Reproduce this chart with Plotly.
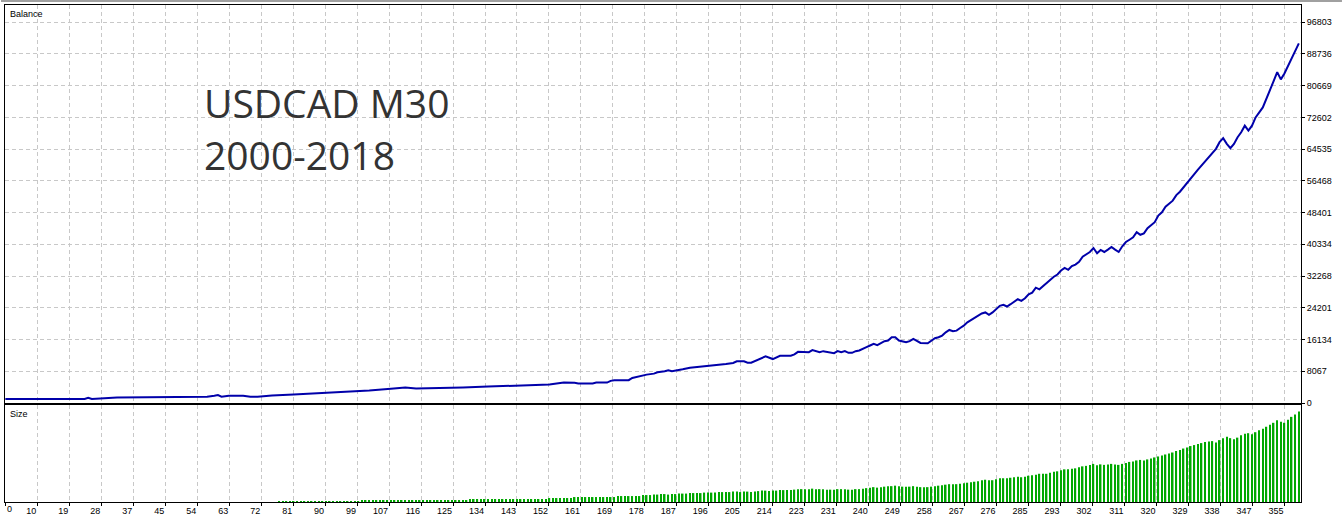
import plotly.graph_objects as go

# balance curve (trade number -> account balance)
trade_no = [0, 11, 22, 23, 24, 31, 38, 47, 56, 58, 59, 60, 62, 66, 68, 70, 74, 80, 86, 94,
            101, 107, 111, 114, 118, 127, 134, 144, 151, 153, 155, 158, 159, 163, 164, 167,
            168, 169, 173, 174, 176, 178, 180, 181, 183, 184, 185, 187, 188, 190, 193, 194,
            197, 200, 202, 203, 205, 206, 207, 208, 210, 211, 213, 214, 215, 218, 219, 220,
            223, 224, 225, 226, 227, 228, 229, 230, 231, 232, 233, 234, 235, 236, 237, 238,
            239, 240, 241, 242, 243, 244, 245, 246, 247, 248, 250, 251, 252, 253, 254, 256,
            257, 258, 259, 260, 261, 262, 263, 264, 265, 266, 267, 268, 269, 271, 272, 273,
            274, 275, 276, 277, 278, 279, 280, 281, 282, 283, 284, 285, 286, 287, 291, 292,
            293, 294, 295, 296, 297, 298, 299, 301, 302, 303, 304, 305, 306, 307, 308, 309,
            310, 311, 312, 313, 314, 315, 316, 317, 319, 320, 321, 322, 324, 325, 326, 331,
            336, 337, 338, 339, 340, 341, 342, 343, 344, 345, 346, 347, 349, 350, 351, 352,
            353, 354, 355, 356, 357, 358, 359]
balance = [1000, 1000, 1010, 1330, 1020, 1410, 1420, 1590, 1600, 1840, 2010, 1600, 1840, 1840, 1590, 1600, 1920, 2170, 2420, 2850,
           3180, 3600, 3930, 3680, 3700, 3930, 4180, 4440, 4690, 4940, 5190, 5120, 4940, 4940, 5190, 5190,
           5620, 5800, 5800, 6380, 6810, 7210, 7460, 7820, 8070, 8320, 8070, 8320, 8570, 8970, 9220, 9480,
           9660, 9910, 10160, 10590, 10590, 10240, 10240, 10660, 11340, 11850, 11170, 11670, 12000, 12000, 12350, 13010,
           12930, 13440, 13110, 12930, 13180, 13010, 12680, 12680, 13180, 12930, 13180, 12760, 12760, 13180, 13360, 13870,
           14190, 14620, 15030, 14700, 15200, 15710, 15880, 16710, 16710, 15880, 15450, 15710, 16290, 15880, 15280, 15200,
           15880, 16460, 16710, 17140, 17970, 18560, 18230, 18400, 19060, 19660, 20500, 21080, 21760, 22760, 23020, 22440,
           23020, 23850, 24710, 24960, 24530, 25110, 25710, 26370, 25970, 26620, 27630, 28060, 29320, 28900, 32090, 32670,
           33680, 34360, 33860, 34790, 35190, 35870, 37210, 38390, 39400, 38070, 38900, 38390, 38980, 39650, 38980, 38390,
           39830, 40920, 41500, 42100, 43440, 42760, 43110, 44450, 45960, 47650, 48480, 49920, 51430, 52840, 53700, 59320,
           64610, 66300, 67310, 65870, 64790, 65870, 67560, 68820, 70490, 69230, 70490, 72600, 75130, 77220, 79740, 81830,
           84100, 82260, 83770, 85600, 87800, 89400, 91400]

# position size of every trade (lots), one bar per trade
lot_size = [
    0.1, 0.1, 0.1, 0.1, 0.1, 0.1, 0.1, 0.1, 0.1, 0.1, 0.1, 0.1, 0.1, 0.1, 0.1, 0.1, 0.1, 0.1, 0.1, 0.1,
    0.1, 0.1, 0.1, 0.1, 0.1, 0.1, 0.1, 0.1, 0.1, 0.1, 0.1, 0.1, 0.1, 0.1, 0.1, 0.1, 0.1, 0.1, 0.1, 0.1,
    0.1, 0.1, 0.1, 0.1, 0.1, 0.1, 0.1, 0.1, 0.1, 0.1, 0.1, 0.1, 0.1, 0.1, 0.1, 0.1, 0.1, 0.1, 0.1, 0.1,
    0.1, 0.1, 0.1, 0.1, 0.1, 0.1, 0.1, 0.1, 0.1, 0.1, 0.1, 0.1, 0.1, 0.1, 0.1, 0.1, 0.2, 0.2, 0.2, 0.2,
    0.2, 0.2, 0.2, 0.2, 0.2, 0.2, 0.2, 0.2, 0.2, 0.2, 0.2, 0.2, 0.2, 0.2, 0.2, 0.2, 0.2, 0.2, 0.2, 0.3,
    0.3, 0.3, 0.3, 0.3, 0.3, 0.3, 0.3, 0.3, 0.3, 0.3, 0.3, 0.3, 0.3, 0.3, 0.3, 0.3, 0.3, 0.3, 0.3, 0.3,
    0.3, 0.3, 0.3, 0.3, 0.3, 0.3, 0.3, 0.3, 0.3, 0.4, 0.4, 0.4, 0.4, 0.4, 0.4, 0.4, 0.4, 0.4, 0.4, 0.4,
    0.4, 0.4, 0.4, 0.4, 0.4, 0.4, 0.4, 0.4, 0.4, 0.4, 0.4, 0.5, 0.5, 0.5, 0.5, 0.5, 0.5, 0.5, 0.6, 0.6,
    0.6, 0.6, 0.6, 0.6, 0.6, 0.6, 0.6, 0.6, 0.6, 0.6, 0.7, 0.7, 0.7, 0.7, 0.7, 0.7, 0.7, 0.8, 0.8, 0.8,
    0.85, 0.85, 0.9, 0.9, 0.85, 0.9, 0.9, 0.95, 0.95, 0.95, 1.0, 1.0, 1.0, 1.0, 1.05, 1.05, 1.05, 1.05, 1.1, 1.1,
    1.1, 1.1, 1.15, 1.15, 1.1, 1.15, 1.15, 1.1, 1.15, 1.2, 1.25, 1.25, 1.2, 1.25, 1.25, 1.3, 1.3, 1.3, 1.3, 1.35,
    1.4, 1.4, 1.4, 1.4, 1.45, 1.4, 1.4, 1.4, 1.35, 1.35, 1.35, 1.4, 1.4, 1.4, 1.35, 1.35, 1.4, 1.4, 1.45, 1.5,
    1.55, 1.6, 1.55, 1.6, 1.65, 1.7, 1.7, 1.75, 1.7, 1.65, 1.65, 1.65, 1.7, 1.65, 1.6, 1.6, 1.6, 1.65, 1.7, 1.75,
    1.8, 1.85, 1.9, 1.9, 1.9, 1.95, 2.0, 2.05, 2.1, 2.15, 2.2, 2.3, 2.35, 2.3, 2.3, 2.4, 2.5, 2.5, 2.5, 2.55,
    2.6, 2.65, 2.6, 2.65, 2.75, 2.8, 2.85, 2.95, 2.95, 2.95, 3.05, 3.15, 3.2, 3.3, 3.4, 3.4, 3.45, 3.5, 3.6, 3.7,
    3.75, 3.85, 3.95, 3.8, 3.9, 3.85, 3.9, 3.95, 3.9, 3.85, 3.95, 4.05, 4.15, 4.2, 4.3, 4.35, 4.3, 4.4, 4.5, 4.6,
    4.7, 4.8, 4.9, 5.0, 5.1, 5.25, 5.35, 5.5, 5.6, 5.75, 5.85, 5.95, 6.05, 6.15, 6.2, 6.25, 6.1, 6.35, 6.55, 6.7,
    6.55, 6.45, 6.6, 6.85, 7.0, 7.05, 6.95, 7.15, 7.35, 7.5, 7.7, 7.9, 8.1, 8.35, 8.2, 8.1, 8.4, 8.7, 8.95, 9.25,
]

x_labels = [0, 10, 19, 28, 37, 45, 54, 63, 72, 81, 90, 99, 107, 116, 125, 134, 143, 152, 161, 169,
            178, 187, 196, 205, 214, 223, 231, 240, 249, 258, 267, 276, 285, 293, 302, 311, 320,
            329, 338, 347, 355]
y_ticks = [0, 8067, 16134, 24201, 32268, 40334, 48401, 56468, 64535, 72602, 80669, 88736, 96803]

# MT4 spaces the trade grid evenly, labels are the rounded trade number
step = x_labels[-1] / (len(x_labels) - 1)
x_pos = [k * step for k in range(len(x_labels))]

W, H = 1342, 520
ML, MR, MT, MB = 4, 41, 5, 13
pw, ph = W - ML - MR, H - MT - MB


def px(x):
    return (x - ML) / pw


def py(y):
    return (H - MB - y) / ph


tick_font = dict(family="Liberation Sans, Arial, sans-serif", size=9, color="black")
big_font = dict(family="Open Sans, sans-serif", size=39, color="#333333", weight=500)
grid = dict(showgrid=True, gridcolor="#c8c8c8", gridwidth=1, griddash="4px,3px")
frame = dict(showline=True, mirror=True, linecolor="black", linewidth=1, zeroline=False)

fig = go.Figure()
fig.add_trace(go.Scatter(x=trade_no, y=balance, mode="lines",
                         line=dict(color="#0000aa", width=2),
                         xaxis="x", yaxis="y", hoverinfo="skip"))
fig.add_trace(go.Bar(x=list(range(len(lot_size))), y=lot_size,
                     marker=dict(color="#00a800", line=dict(width=0)),
                     width=0.42, xaxis="x2", yaxis="y2", hoverinfo="skip"))

fig.update_layout(
    width=W, height=H,
    margin=dict(l=ML, r=MR, t=MT, b=MB),
    paper_bgcolor="white", plot_bgcolor="white",
    showlegend=False,
    xaxis=dict(domain=[0, 1], anchor="y", range=[-0.1, 359.6],
               tickvals=x_pos, showticklabels=False, ticks="", **grid, **frame),
    yaxis=dict(domain=[py(407), 1], anchor="x", range=[0, 101170], side="right",
               tickvals=y_ticks, ticktext=[str(v) for v in y_ticks],
               ticks="outside", ticklen=3, tickcolor="black", tickfont=tick_font,
               **grid, **frame),
    xaxis2=dict(domain=[0, 1], anchor="y2", matches="x", range=[-0.1, 359.6],
                tickvals=x_pos, ticktext=[""] + [str(v) for v in x_labels[1:]],
                ticks="outside", ticklen=3, tickcolor="black", tickfont=tick_font,
                ticklabelposition="outside left", **grid, **frame),
    yaxis2=dict(domain=[0, py(409)], anchor="x2", range=[0.1, 9.9],
                showgrid=False, showticklabels=False, ticks="", **frame),
    annotations=[
        dict(text="Balance", xref="paper", yref="paper", x=px(7), y=py(14),
             xanchor="left", yanchor="middle", showarrow=False, font=tick_font),
        dict(text="Size", xref="paper", yref="paper", x=px(7), y=py(418),
             xanchor="left", yanchor="middle", showarrow=False, font=tick_font),
        dict(text="0", xref="paper", yref="paper", x=px(4), y=py(514),
             xanchor="left", yanchor="middle", showarrow=False, font=tick_font),
        dict(text="USDCAD M30", xref="paper", yref="paper", x=px(201), y=py(103),
             xanchor="left", yanchor="middle", showarrow=False, font=big_font),
        dict(text="2000-2018", xref="paper", yref="paper", x=px(201), y=py(156),
             xanchor="left", yanchor="middle", showarrow=False, font=big_font),
    ],
    shapes=[
        dict(type="line", xref="paper", yref="paper", x0=px(0), x1=px(W), y0=py(1), y1=py(1),
             line=dict(color="#a0a0a0", width=2)),
    ],
)

# the page body has a default 8px margin; drop it so the figure fills the window
fig.write_html("out.html", config={"displayModeBar": False},
               post_script="document.body.style.margin = '0px';")
